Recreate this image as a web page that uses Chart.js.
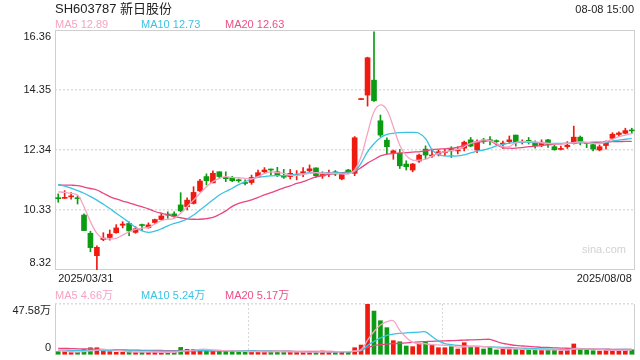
<!DOCTYPE html>
<html>
<head>
<meta charset="utf-8">
<script src="https://cdn.jsdelivr.net/npm/chart.js@4.4.1/dist/chart.umd.min.js"></script>
<style>
  html, body { margin: 0; padding: 0; background: #fff; }
  #wrap { position: relative; width: 640px; height: 360px; overflow: hidden;
          font-family: "Liberation Sans", Arial, "Noto Sans CJK SC", sans-serif; }
  #priceBox { position: absolute; left: 0; top: 0; width: 640px; height: 290px; }
  #volBox { position: absolute; left: 0; top: 290px; width: 640px; height: 70px; }
  .txt { position: absolute; white-space: nowrap; font-size: 11px; line-height: 12px; }
</style>
</head>
<body>
<div id="wrap">
  <div id="priceBox"><canvas id="priceChartCanvas"></canvas></div>
  <div id="volBox"><canvas id="volumeChartCanvas"></canvas></div>

  <div class="txt" style="left:55px;top:1px;font-size:13px;line-height:15px;color:#222;">SH603787 新日股份</div>
  <div class="txt" style="right:6px;top:3px;color:#222;">08-08 15:00</div>

  <div class="txt" style="left:55px;top:18px;color:#f7a3c3;">MA5 12.89</div>
  <div class="txt" style="left:141px;top:18px;color:#3cc3e2;">MA10 12.73</div>
  <div class="txt" style="left:225px;top:18px;color:#ec4f87;">MA20 12.63</div>

  <div class="txt" style="left:582px;top:243px;font-size:11px;line-height:12px;color:#d2d2d2;">sina.com</div>

  <div class="txt" style="left:55px;top:289px;color:#f7a3c3;">MA5 4.66万</div>
  <div class="txt" style="left:141px;top:289px;color:#3cc3e2;">MA10 5.24万</div>
  <div class="txt" style="left:225px;top:289px;color:#ec4f87;">MA20 5.17万</div>
</div>

<script>
// trading days 2025/03/31 .. 2025/08/08
const dates = [
  '2025/03/31',
  '2025/04/01','2025/04/02','2025/04/03','2025/04/07','2025/04/08','2025/04/09','2025/04/10','2025/04/11',
  '2025/04/14','2025/04/15','2025/04/16','2025/04/17','2025/04/18','2025/04/21','2025/04/22','2025/04/23',
  '2025/04/24','2025/04/25','2025/04/28','2025/04/29','2025/04/30',
  '2025/05/06','2025/05/07','2025/05/08','2025/05/09','2025/05/12','2025/05/13','2025/05/14','2025/05/15',
  '2025/05/16','2025/05/19','2025/05/20','2025/05/21','2025/05/22','2025/05/23','2025/05/26','2025/05/27',
  '2025/05/28','2025/05/29','2025/05/30',
  '2025/06/03','2025/06/04','2025/06/05','2025/06/06','2025/06/09','2025/06/10','2025/06/11','2025/06/12',
  '2025/06/13','2025/06/16','2025/06/17','2025/06/18','2025/06/19','2025/06/20','2025/06/23','2025/06/24',
  '2025/06/25','2025/06/26','2025/06/27','2025/06/30',
  '2025/07/01','2025/07/02','2025/07/03','2025/07/04','2025/07/07','2025/07/08','2025/07/09','2025/07/10',
  '2025/07/11','2025/07/14','2025/07/15','2025/07/16','2025/07/17','2025/07/18','2025/07/21','2025/07/22',
  '2025/07/23','2025/07/24','2025/07/25','2025/07/28','2025/07/29','2025/07/30','2025/07/31',
  '2025/08/01','2025/08/04','2025/08/05','2025/08/06','2025/08/07','2025/08/08'
];

const opens = [
  10.74,10.72,10.77,10.74,10.16,9.55,8.80,9.34,9.41,9.57,
  9.82,9.88,9.58,9.82,9.74,9.91,10.01,10.17,10.20,10.50,
  10.44,10.55,10.97,11.45,11.24,11.61,11.42,11.41,11.33,11.25,
  11.25,11.45,11.61,11.69,11.61,11.45,11.45,11.48,11.58,11.64,
  11.74,11.47,11.55,11.61,11.37,11.67,11.56,14.03,14.18,14.68,
  13.32,12.67,12.25,12.23,11.87,11.67,11.97,12.37,12.14,12.20,
  12.25,12.39,12.31,12.40,12.68,12.34,12.66,12.67,12.64,12.54,
  12.62,12.84,12.60,12.66,12.59,12.51,12.68,12.45,12.36,12.45,
  12.56,12.77,12.58,12.52,12.34,12.49,12.73,12.86,12.90,13.00
];
const highs = [
  10.87,10.98,10.91,10.81,10.20,9.62,9.13,9.57,9.66,9.84,
  9.94,9.93,9.77,9.86,9.90,10.03,10.23,10.27,10.27,10.91,
  10.74,11.11,11.36,11.54,11.64,11.61,11.61,11.46,11.37,11.34,
  11.50,11.67,11.75,11.70,11.76,11.69,11.69,11.65,11.75,11.84,
  11.74,11.61,11.67,11.65,11.56,11.69,12.79,14.03,15.45,16.30,
  13.51,12.75,12.34,12.36,11.98,11.89,12.20,12.48,12.37,12.34,
  12.37,12.45,12.45,12.64,12.76,12.68,12.73,12.79,12.68,12.64,
  12.81,12.84,12.68,12.76,12.65,12.68,12.70,12.51,12.47,12.62,
  13.14,12.81,12.59,12.59,12.51,12.65,12.92,12.95,13.07,13.07
];
const lows = [
  10.59,10.72,10.69,10.53,9.64,8.93,8.32,9.30,9.32,9.55,
  9.73,9.47,9.55,9.64,9.72,9.88,10.00,10.05,10.08,10.27,
  10.33,10.53,10.94,11.17,11.24,11.40,11.28,11.28,11.26,11.17,
  11.19,11.41,11.56,11.50,11.45,11.39,11.37,11.34,11.45,11.56,
  11.42,11.39,11.45,11.48,11.34,11.54,11.48,14.03,13.81,13.97,
  12.79,12.21,12.03,11.72,11.67,11.61,11.92,12.04,12.09,12.14,
  12.14,12.09,12.21,12.31,12.45,12.25,12.56,12.51,12.51,12.39,
  12.56,12.47,12.54,12.54,12.40,12.45,12.43,12.33,12.34,12.39,
  12.54,12.51,12.42,12.31,12.31,12.37,12.68,12.79,12.88,12.90
];
const closes = [
  10.71,10.74,10.79,10.71,9.64,9.07,9.08,9.39,9.52,9.73,
  9.86,9.63,9.70,9.81,9.83,10.01,10.13,10.16,10.12,10.30,
  10.66,10.92,11.30,11.31,11.56,11.45,11.38,11.31,11.31,11.22,
  11.42,11.58,11.67,11.67,11.50,11.43,11.56,11.52,11.61,11.71,
  11.48,11.52,11.58,11.54,11.55,11.58,12.75,14.03,15.43,13.99,
  12.84,12.45,12.31,11.81,11.78,11.87,12.17,12.17,12.17,12.28,
  12.28,12.31,12.34,12.60,12.47,12.62,12.64,12.65,12.62,12.57,
  12.68,12.62,12.63,12.63,12.48,12.60,12.53,12.35,12.39,12.50,
  12.77,12.63,12.56,12.37,12.45,12.62,12.87,12.91,12.99,12.98
];

const ma5 = [
  10.94,10.92,10.89,10.83,10.44,9.94,9.55,9.38,9.36,9.38,
  9.49,9.60,9.68,9.72,9.75,9.86,9.97,10.02,10.05,10.22,
  10.44,10.66,10.89,11.11,11.28,11.39,11.45,11.42,11.41,11.39,
  11.37,11.45,11.56,11.61,11.58,11.56,11.50,11.48,11.52,11.56,
  11.58,11.56,11.56,11.56,11.54,11.54,11.67,12.12,12.90,13.62,
  13.85,13.68,13.12,12.50,12.15,12.00,12.00,12.03,12.14,12.23,
  12.28,12.32,12.36,12.45,12.56,12.62,12.68,12.65,12.56,12.45,
  12.45,12.59,12.62,12.62,12.61,12.59,12.56,12.54,12.54,12.56,
  12.59,12.61,12.60,12.56,12.56,12.62,12.70,12.79,12.84,12.89
];
const ma10 = [
  11.19,11.13,11.06,10.98,10.89,10.78,10.66,10.52,10.38,10.22,
  10.07,9.91,9.75,9.63,9.58,9.62,9.70,9.80,9.88,9.94,
  10.03,10.16,10.33,10.50,10.67,10.83,10.95,11.06,11.18,11.28,
  11.36,11.42,11.45,11.47,11.48,11.48,11.50,11.53,11.55,11.58,
  11.58,11.57,11.57,11.58,11.57,11.57,11.62,11.90,12.28,12.55,
  12.75,12.86,12.90,12.92,12.93,12.93,12.90,12.72,12.35,12.18,
  12.14,12.14,12.14,12.18,12.24,12.30,12.34,12.40,12.48,12.53,
  12.57,12.59,12.60,12.60,12.59,12.58,12.56,12.56,12.56,12.56,
  12.57,12.59,12.58,12.57,12.56,12.59,12.64,12.67,12.70,12.73
];
const ma20 = [
  11.16,11.16,11.16,11.15,11.10,11.05,11.00,10.89,10.78,10.70,
  10.63,10.57,10.50,10.44,10.37,10.28,10.22,10.17,10.11,10.07,
  10.03,10.02,10.02,10.04,10.08,10.18,10.30,10.45,10.55,10.61,
  10.67,10.75,10.84,10.91,10.99,11.07,11.14,11.22,11.28,11.36,
  11.44,11.48,11.52,11.55,11.58,11.60,11.63,11.75,11.90,12.02,
  12.14,12.20,12.23,12.24,12.25,12.27,12.28,12.31,12.35,12.37,
  12.38,12.40,12.43,12.50,12.56,12.60,12.62,12.65,12.52,12.42,
  12.40,12.40,12.42,12.45,12.47,12.49,12.51,12.53,12.55,12.56,
  12.57,12.59,12.59,12.60,12.60,12.61,12.62,12.62,12.63,12.63
];

// volume, 万手
const volumes = [
  3.1,3.1,2.2,2.5,5.3,6.8,6.8,4.7,3.1,2.5,
  2.5,3.1,2.5,2.5,2.5,2.5,2.5,2.5,2.5,7.1,
  5.3,5.3,4.7,4.0,4.0,4.0,3.7,3.7,3.1,2.5,
  3.1,3.1,3.1,3.1,3.1,2.5,3.1,2.5,2.5,2.5,
  3.1,3.7,3.1,2.8,3.1,3.1,6.8,9.3,47.58,41.0,
  32.0,25.5,13.4,12.4,8.4,7.8,10.3,12.4,9.3,6.8,
  6.8,7.8,5.6,11.5,7.8,7.8,5.6,7.1,4.7,5.6,
  5.6,5.3,5.3,4.7,4.7,4.7,4.7,5.3,3.7,4.7,
  10.3,5.3,4.7,4.0,3.7,4.9,4.3,4.4,4.8,4.9
];
const volMa5 = [
  4.0,3.6,3.2,2.8,3.2,3.8,4.6,5.0,5.0,4.6,
  3.8,3.0,2.7,2.6,2.6,2.6,2.5,2.5,2.5,3.4,
  4.0,4.6,5.3,5.3,4.7,4.3,4.0,3.8,3.7,3.4,
  3.2,3.1,3.0,3.0,3.1,3.0,3.0,2.9,2.8,2.6,
  2.7,2.9,3.0,3.0,3.1,3.1,3.8,5.0,13.9,21.9,
  27.9,31.1,31.9,22.9,16.3,11.8,10.5,10.5,9.6,9.4,
  9.1,8.7,7.3,7.7,7.8,7.8,7.7,7.6,6.6,6.2,
  5.8,5.7,5.3,5.3,5.1,4.9,4.8,4.8,4.6,4.6,
  5.8,5.8,5.7,5.7,5.6,4.5,4.3,4.3,4.4,4.66
];
const volMa10 = [
  4.5,4.5,4.4,4.4,4.3,4.3,4.3,4.2,4.2,4.1,
  4.0,3.9,3.9,3.8,3.8,3.7,3.7,3.6,3.6,3.7,
  3.8,3.9,4.1,4.2,4.2,4.2,4.1,4.1,4.0,3.9,
  3.8,3.7,3.6,3.5,3.4,3.4,3.3,3.2,3.1,3.0,
  3.0,3.0,3.0,3.0,3.0,3.0,3.4,4.0,8.9,12.6,
  15.9,18.4,19.5,20.2,20.6,21.0,21.4,21.5,17.3,13.2,
  10.6,9.6,8.9,8.6,8.3,8.2,7.9,7.6,7.4,7.2,
  7.0,6.6,6.4,6.2,5.9,5.7,5.5,5.3,5.0,5.0,
  5.5,5.5,5.5,5.5,5.4,5.2,5.1,5.2,5.3,5.24
];
const volMa20 = [
  6.2,6.1,6.0,5.8,5.7,5.6,5.4,5.2,5.0,4.9,
  4.7,4.6,4.5,4.4,4.3,4.3,4.2,4.1,4.1,4.0,
  4.0,4.0,4.0,4.0,3.9,3.9,3.9,3.9,3.8,3.8,
  3.8,3.7,3.7,3.6,3.6,3.5,3.5,3.4,3.4,3.4,
  3.4,3.3,3.3,3.2,3.2,3.2,3.4,4.7,7.0,8.8,
  9.6,10.2,10.6,10.9,11.3,11.7,12.2,12.5,12.8,13.0,
  13.2,13.4,13.6,13.9,14.1,14.3,14.5,14.6,12.6,10.8,
  9.8,8.9,8.4,8.0,7.6,7.2,7.0,6.7,6.5,6.3,
  6.2,6.0,5.8,5.6,5.5,5.4,5.3,5.2,5.2,5.17
];

const priceTicks = [8.32, 10.33, 12.34, 14.35, 16.36];
const volumeTicks = [0, 47.58];

const upColor = '#f01b10';
const downColor = '#0c9c14';
const ma5Color = '#f7a3c3';
const ma10Color = '#3cc3e2';
const ma20Color = '#e9467f';

Chart.defaults.font.family = '"Liberation Sans", Arial, "Noto Sans CJK SC", sans-serif';
Chart.defaults.font.size = 11;
Chart.defaults.color = '#333';

const candleColors = closes.map((c, i) => c >= opens[i] ? upColor : downColor);

// first / last axis label sit inside the plot: pad with an empty line
const insetLabel = (text, index, count) => {
    if (index === 0) return [text, ''];
    if (index === count - 1) return ['', text];
    return text;
};

// fixed axis width, and no extra room asked for the taller end labels
const fitYAxis = (scale) => {
    scale.width = 55;
    scale.paddingTop = 0;
    scale.paddingBottom = 0;
};

const priceFrame = {
    id: 'priceFrame',
    beforeDatasetsDraw(chart) {
        const ctx = chart.ctx;
        const a = chart.chartArea;
        ctx.save();
        ctx.strokeStyle = '#cfcfcf';
        ctx.lineWidth = 1;
        ctx.strokeRect(a.left + 0.5, a.top + 0.5, a.right - a.left - 1, a.bottom - a.top - 1);
        ctx.restore();
    }
};

const volumeFrame = {
    id: 'volumeFrame',
    beforeDatasetsDraw(chart) {
        const ctx = chart.ctx;
        const a = chart.chartArea;
        ctx.save();
        ctx.strokeStyle = '#cfcfcf';
        ctx.lineWidth = 1;
        ctx.beginPath();
        ctx.moveTo(a.left + 0.5, a.top);
        ctx.lineTo(a.left + 0.5, a.bottom);
        ctx.moveTo(a.right - 0.5, a.top);
        ctx.lineTo(a.right - 0.5, a.bottom);
        ctx.stroke();
        // dotted dividers at thirds
        ctx.strokeStyle = '#d8d8d8';
        ctx.setLineDash([2, 2]);
        ctx.beginPath();
        for (let k = 1; k <= 2; k++) {
            const x = Math.round(a.left + (a.right - a.left) * k / 3) + 0.5;
            ctx.moveTo(x, a.top);
            ctx.lineTo(x, a.bottom);
        }
        ctx.stroke();
        ctx.restore();
    }
};

const maLine = (label, data, color) => ({
    type: 'line',
    label: label,
    data: data,
    borderColor: color,
    borderWidth: 1.3,
    pointRadius: 0,
    tension: 0.35,
    fill: false,
    order: 0
});

const priceChart = new Chart(document.getElementById('priceChartCanvas'), {
    type: 'bar',
    data: {
        labels: dates,
        datasets: [
            maLine('MA5', ma5, ma5Color),
            maLine('MA10', ma10, ma10Color),
            maLine('MA20', ma20, ma20Color),
            {
                label: 'body',
                data: opens.map((o, i) => [o, closes[i]]),
                backgroundColor: candleColors,
                barThickness: 5,
                minBarLength: 1,
                grouped: false,
                order: 1
            },
            {
                label: 'wick',
                data: lows.map((l, i) => [l, highs[i]]),
                backgroundColor: candleColors,
                barThickness: 1,
                minBarLength: 1,
                grouped: false,
                order: 2
            }
        ]
    },
    options: {
        responsive: true,
        maintainAspectRatio: false,
        animation: false,
        events: [],
        layout: { padding: { top: 30, right: 5, left: 0, bottom: 0 } },
        plugins: {
            legend: { display: false },
            tooltip: { enabled: false }
        },
        scales: {
            x: {
                grid: { display: false, drawTicks: false },
                border: { display: false },
                afterFit(scale) { scale.height = 20; },
                ticks: {
                    autoSkip: false,
                    maxRotation: 0,
                    minRotation: 0,
                    align: 'inner',
                    padding: 2,
                    color: '#222',
                    callback(value, index) {
                        return (index === 0 || index === dates.length - 1) ? dates[index] : '';
                    }
                }
            },
            y: {
                min: priceTicks[0],
                max: priceTicks[priceTicks.length - 1],
                afterFit: fitYAxis,
                afterBuildTicks(scale) {
                    scale.ticks = priceTicks.map(v => ({ value: v }));
                },
                grid: {
                    drawTicks: false,
                    lineWidth: 1.5,
                    color(ctx) {
                        const i = ctx.index;
                        return (i === 0 || i === priceTicks.length - 1) ? 'transparent' : '#dcdcdc';
                    }
                },
                border: { display: false, dash: [2, 2] },
                ticks: {
                    padding: 4,
                    color: '#222',
                    callback(value, index) {
                        return insetLabel(Number(value).toFixed(2), index, priceTicks.length);
                    }
                }
            }
        }
    },
    plugins: [priceFrame]
});

const volumeChart = new Chart(document.getElementById('volumeChartCanvas'), {
    type: 'bar',
    data: {
        labels: dates,
        datasets: [
            maLine('MA5', volMa5, ma5Color),
            maLine('MA10', volMa10, ma10Color),
            maLine('MA20', volMa20, ma20Color),
            {
                label: 'volume',
                data: volumes,
                backgroundColor: candleColors,
                barThickness: 4,
                grouped: false,
                order: 1
            }
        ]
    },
    options: {
        responsive: true,
        maintainAspectRatio: false,
        animation: false,
        events: [],
        layout: { padding: { top: 14, right: 5, left: 0, bottom: 5 } },
        plugins: {
            legend: { display: false },
            tooltip: { enabled: false }
        },
        scales: {
            x: { display: false },
            y: {
                min: volumeTicks[0],
                max: volumeTicks[1],
                afterFit: fitYAxis,
                afterBuildTicks(scale) {
                    scale.ticks = volumeTicks.map(v => ({ value: v }));
                },
                grid: {
                    drawTicks: false,
                    lineWidth: 1.5,
                    color(ctx) { return ctx.index === volumeTicks.length - 1 ? '#dcdcdc' : 'transparent'; }
                },
                border: { display: false, dash: [2, 2] },
                ticks: {
                    padding: 4,
                    color: '#222',
                    callback(value, index) {
                        const text = value === 0 ? '0' : Number(value).toFixed(2) + '万';
                        return insetLabel(text, index, volumeTicks.length);
                    }
                }
            }
        }
    },
    plugins: [volumeFrame]
});
</script>
</body>
</html>
